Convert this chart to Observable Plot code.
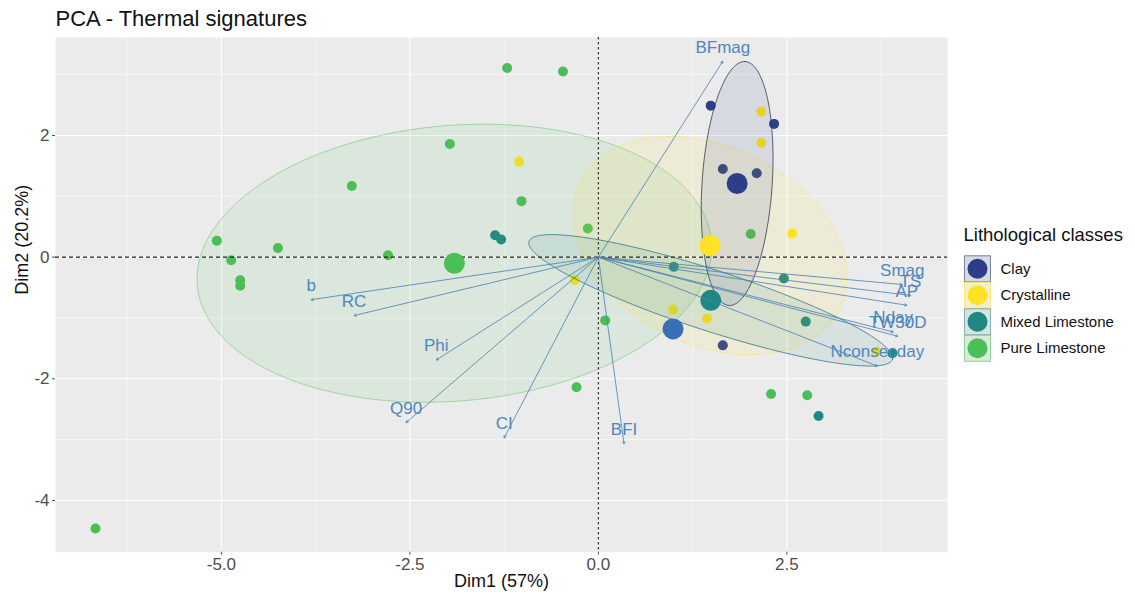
<!DOCTYPE html>
<html><head><meta charset="utf-8">
<script src="https://cdn.jsdelivr.net/npm/d3@7"></script>
<script src="https://cdn.jsdelivr.net/npm/@observablehq/plot@0.6"></script>
<style>body{margin:0;background:#fff;}</style>
</head><body><div id="chart"></div>
<script>
// ---- data ----
const classes = ["Clay", "Crystalline", "Mixed Limestone", "Pure Limestone"];
const classColors = ["#2C3E88", "#FDE321", "#1E8883", "#4BBF57"];

const clayX = [1.49, 2.33, 1.65, 2.10, 1.65];
const clayY = [2.49, 2.19, 1.45, 1.38, -1.45];
const crystX = [-1.05, -0.31, 2.16, 2.16, 2.57, 0.99, 1.44, 3.69];
const crystY = [1.57, -0.38, 2.39, 1.88, 0.39, -0.86, -1.01, -1.55];
const mixedX = [-1.37, -1.29, 1.00, 2.46, 2.75, 3.90, 2.92];
const mixedY = [0.36, 0.29, -0.16, -0.35, -1.06, -1.58, -2.61];
const pureX = [-1.21, -0.47, -1.97, -3.27, -1.02, -5.06, -4.25, -2.79, -4.87, -4.75, -4.75, -0.14, 2.02, 0.09, -0.29, 2.29, 2.77, -6.67];
const pureY = [3.11, 3.05, 1.86, 1.17, 0.92, 0.27, 0.15, 0.03, -0.05, -0.38, -0.47, 0.47, 0.38, -1.04, -2.14, -2.25, -2.27, -4.46];

const centroidX = [1.84, 1.48, 1.49, -1.91];
const centroidY = [1.21, 0.19, -0.71, -0.10];
const extraCentroidX = [0.99];
const extraCentroidY = [-1.18];
const extraCentroidColor = "#3A6FB5";

// ellipse conjugate half-axes (data units)
const ellipseUX = [0.106, 1.80, 2.41, 3.41];
const ellipseUY = [2.005, -0.28, -0.97, 0.16];
const ellipseVX = [0.464, -0.25, -0.125, 0.146];
const ellipseVY = [-0.033, 1.77, -0.475, 2.28];

const varNames = ["BFmag", "Smag", "TS", "AP", "Nday", "TW30D", "Nconsecday", "b", "RC", "Phi", "Q90", "CI", "BFI"];
const varX = [1.65, 4.03, 4.14, 4.09, 3.91, 3.97, 3.70, -3.81, -3.24, -2.15, -2.55, -1.25, 0.34];
const varY = [3.22, -0.45, -0.63, -0.79, -1.23, -1.30, -1.79, -0.70, -0.96, -1.69, -2.72, -2.97, -3.07];

const xTicks = [-5, -2.5, 0, 2.5];
const yTicks = [-4, -2, 0, 2];
const xMinor = [-6.25, -3.75, -1.25, 1.25, 3.75];
const yMinor = [-3, -1, 1, 3];

const titleText = "PCA - Thermal signatures";
const xTitle = "Dim1 (57%)";
const yTitle = "Dim2 (20.2%)";
const legendTitle = "Lithological classes";

// ---- tables ----
const xs = [clayX, crystX, mixedX, pureX];
const ys = [clayY, crystY, mixedY, pureY];
const points = classes.flatMap((c, i) => xs[i].map((x, j) => ({x, y: ys[i][j], cls: c})));
const centroids = classes.map((c, i) => ({x: centroidX[i], y: centroidY[i], cls: c}));
const extra = extraCentroidX.map((x, i) => ({x, y: extraCentroidY[i]}));
const vars = varNames.map((n, i) => ({name: n, x: varX[i], y: varY[i]}));

function ellipse(i) {
  const pts = [];
  for (let k = 0; k <= 160; k++) {
    const t = 2 * Math.PI * k / 160;
    pts.push({
      x: centroidX[i] + ellipseUX[i] * Math.cos(t) + ellipseVX[i] * Math.sin(t),
      y: centroidY[i] + ellipseUY[i] * Math.cos(t) + ellipseVY[i] * Math.sin(t)
    });
  }
  return pts;
}
const ellipseStrokes = ["#333a55", "#FDE321", "#3F7F8C", "#4BBF57"];
const ellipseStrokeOpacity = [0.8, 0.35, 0.85, 0.45];
const ellipseOrder = [3, 1, 2, 0];

const font = "'Liberation Sans', Arial, Helvetica, sans-serif";
const marks = [
  Plot.frame({fill: "#EBEBEB"}),
  Plot.gridX(xMinor, {stroke: "white", strokeOpacity: 1, strokeWidth: 0.55}),
  Plot.gridY(yMinor, {stroke: "white", strokeOpacity: 1, strokeWidth: 0.55}),
  Plot.gridX(xTicks, {stroke: "white", strokeOpacity: 1, strokeWidth: 1.1}),
  Plot.gridY(yTicks, {stroke: "white", strokeOpacity: 1, strokeWidth: 1.1}),
  Plot.axisX({ticks: xTicks, tickFormat: d => d.toFixed(1), tickSize: 3, tickPadding: 3, fontSize: 17, color: "#4D4D4D", label: null}),
  Plot.axisY({ticks: yTicks, tickFormat: d => String(d), tickSize: 3, tickPadding: 3, fontSize: 17, color: "#4D4D4D", label: null}),
  Plot.dot(points, {x: "x", y: "y", fill: "cls", r: 5})
];
for (const i of ellipseOrder) {
  marks.push(Plot.line(ellipse(i), {x: "x", y: "y", curve: "linear-closed",
    fill: classColors[i], fillOpacity: 0.1, stroke: ellipseStrokes[i],
    strokeOpacity: ellipseStrokeOpacity[i], strokeWidth: 1}));
}
marks.push(
  Plot.ruleY([0], {stroke: "#222", strokeDasharray: "4,3", strokeWidth: 1.1}),
  Plot.ruleX([0], {stroke: "#333", strokeDasharray: "2.5,2.5", strokeWidth: 1.2}),
  Plot.dot(centroids, {x: "x", y: "y", fill: "cls", r: 10.5}),
  Plot.dot(extra, {x: "x", y: "y", fill: extraCentroidColor, r: 10.5}),
  Plot.arrow(vars, {x1: d => 0, y1: d => 0, x2: "x", y2: "y", stroke: "#4A7FB3", strokeWidth: 0.9, headLength: 4, strokeOpacity: 0.9}),
  Plot.text(vars, {x: "x", y: "y", text: "name", dy: -14, fill: "#4F86BC", fontSize: 17}),
  Plot.text([titleText], {frameAnchor: "top-left", lineAnchor: "middle", text: d => d, textAnchor: "start", dy: -19, fontSize: 22, fill: "#111"}),
  Plot.text([xTitle], {frameAnchor: "bottom", lineAnchor: "middle", text: d => d, dy: 29, fontSize: 18, fill: "#111"}),
  Plot.text([yTitle], {frameAnchor: "left", lineAnchor: "middle", text: d => d, rotate: -90, dx: -33, fontSize: 18, fill: "#111"}),
  Plot.text([legendTitle], {frameAnchor: "top-right", lineAnchor: "middle", text: d => d, textAnchor: "start", dx: 16, dy: 198, fontSize: 18.5, fill: "#111"})
);
classes.forEach((c, i) => {
  const dy = 231.3 + 26.5 * i;
  marks.push(
    Plot.dot([0], {frameAnchor: "top-right", symbol: "square", r: 14.7, fill: "#F0F0F0", dx: 30, dy}),
    Plot.dot([0], {frameAnchor: "top-right", symbol: "square", r: 14.7, fill: classColors[i], fillOpacity: 0.12,
      stroke: ellipseStrokes[i], strokeOpacity: 0.6, strokeWidth: 1, dx: 30, dy}),
    Plot.dot([0], {frameAnchor: "top-right", r: 10, fill: classColors[i], dx: 30, dy}),
    Plot.text([c], {frameAnchor: "top-right", lineAnchor: "middle", text: d => d, textAnchor: "start", dx: 53, dy, fontSize: 15, fill: "#111"})
  );
});

const chart = Plot.plot({
  width: 1135,
  height: 599,
  marginLeft: 55,
  marginRight: 188,
  marginTop: 37,
  marginBottom: 47.3,
  style: {fontFamily: font, background: "white"},
  x: {domain: [-7.20, 4.63]},
  y: {domain: [-4.85, 3.61]},
  color: {domain: classes, range: classColors},
  marks
});
document.getElementById("chart").appendChild(chart);
</script>
</body></html>
